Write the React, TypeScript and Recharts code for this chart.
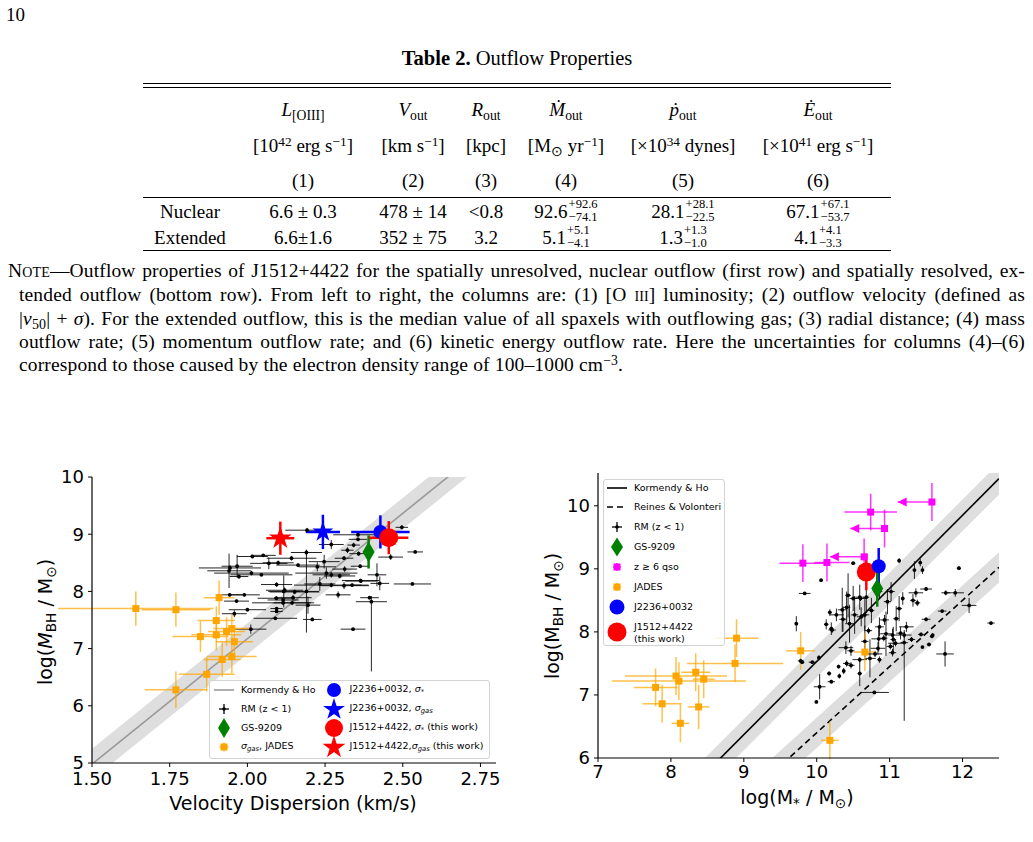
import React from 'react'
import { ComposedChart, Scatter, Line, Area, XAxis, YAxis, ErrorBar } from 'recharts'

type Err = number | [number, number]
type Pt = [number, number, Err, Err]

const SERIF = '"Liberation Serif", "Times New Roman", serif'
const SANS = '"DejaVu Sans", Verdana, sans-serif'

// ---------- left panel: M_BH vs log sigma ----------
const SIGMA_DOMAIN = [1.5, 2.8]
const SIGMA_TICKS = [1.5, 1.75, 2.0, 2.25, 2.5, 2.75]
const MBH_TICKS_L = [5, 6, 7, 8, 9, 10]
// Kormendy & Ho M-sigma relation, read at the frame edges
const KH_SIGMA_ENDS: [number, number][] = [[1.5, 4.98], [2.8, 10.68]]
const KH_SIGMA_SCATTER = 0.27

const RM_SIGMA: Pt[] = [
  [2.192, 9.07, 0.07, 0.04], [2.270, 8.82, 0.04, 0.08], [2.497, 9.12, 0.02, 0.04], [2.540, 8.69, 0.025, 0.02],
  [2.461, 8.60, 0.04, 0.05], [2.356, 8.99, 0.08, 0.03], [2.342, 8.81, 0.02, 0.04], [2.322, 8.72, 0.02, 0.05],
  [2.358, 8.66, 0.03, 0.04], [2.311, 8.58, 0.03, 0.03], [2.016, 8.61, 0.05, 0.02], [2.051, 8.63, 0.04, 0.02],
  [1.944, 8.41, 0.1, 0.05], [1.967, 8.44, 0.05, 0.2], [1.941, 8.36, 0.07, 0.3], [2.013, 8.32, 0.12, 0.04],
  [2.069, 8.49, 0.06, 0.1], [2.099, 8.50, 0.05, 0.04], [2.142, 8.58, 0.08, 0.04], [2.163, 8.46, 0.07, 0.03],
  [2.190, 8.68, 0.05, 0.05], [2.225, 8.43, 0.06, 0.08], [2.247, 8.52, 0.05, 0.12], [2.254, 8.32, 0.1, 0.1],
  [2.270, 8.29, 0.06, 0.05], [2.297, 8.27, 0.05, 0.04], [2.313, 8.39, 0.04, 0.05], [2.363, 8.44, 0.03, 0.03],
  [2.417, 8.29, 0.03, 0.2], [2.426, 8.14, 0.03, 0.12], [2.531, 8.13, 0.06, 0.02], [2.365, 8.18, 0.05, 0.03],
  [2.337, 8.11, 0.03, 0.03], [2.311, 8.10, 0.08, 0.06], [2.270, 8.11, 0.12, 0.04], [2.233, 8.13, 0.05, 0.12],
  [2.190, 8.00, 0.04, 0.72], [2.117, 8.00, 0.05, 0.28], [2.094, 8.12, 0.05, 0.04], [2.120, 8.02, 0.06, 0.05],
  [2.152, 7.99, 0.08, 0.04], [2.292, 7.94, 0.04, 0.06], [2.393, 7.89, 0.03, 0.03], [2.399, 7.82, 0.05, [1.22, 0.1]],
  [2.147, 7.89, 0.06, 0.05], [2.115, 7.85, 0.05, 0.04], [2.195, 7.76, 0.04, 0.15], [1.965, 7.83, 0.04, 0.03],
  [1.943, 7.94, 0.04, 0.03], [1.973, 8.26, 0.03, 0.04], [1.990, 7.94, 0.05, 0.03], [2.045, 8.29, 0.1, 0.02],
  [2.094, 7.70, 0.02, 0.02], [2.094, 7.65, 0.02, 0.02], [2.093, 7.88, 0.06, 0.03], [2.115, 7.80, 0.1, 0.04],
  [2.144, 7.80, 0.06, 0.04], [1.958, 7.61, 0.04, 0.06], [2.000, 7.68, 0.06, 0.03], [2.090, 7.53, 0.07, 0.02],
  [2.209, 7.51, 0.03, 0.03], [2.340, 7.34, 0.04, 0.02], [2.011, 7.34, 0.05, 0.08], [2.364, 8.19, 0.06, 0.03],
  [2.356, 8.91, 0.03, 0.03],
]
const JADES_SIGMA: Pt[] = [
  [1.641, 7.70, 0.25, 0.3], [1.770, 7.68, 0.11, 0.3], [1.909, 7.89, 0.05, 0.3], [1.900, 7.49, 0.06, 0.25],
  [1.849, 7.21, 0.09, 0.27], [1.900, 7.24, 0.08, 0.27], [1.933, 7.30, 0.06, 0.25], [1.950, 7.35, 0.06, 0.25],
  [1.958, 7.12, 0.06, 0.27], [1.919, 6.81, 0.06, 0.3], [1.950, 6.86, 0.08, 0.3], [1.869, 6.55, 0.09, 0.3],
  [1.770, 6.28, 0.1, 0.32],
]
const GS9209_SIGMA: Pt[] = [[2.39, 8.69, 0.01, 0.29]]
const J2236_SSTAR: Pt[] = [[2.428, 9.04, 0.094, 0.29]]
const J2236_SGAS: Pt[] = [[2.243, 9.04, 0.055, 0.3]]
const J1512_SSTAR: Pt[] = [[2.455, 8.94, 0.063, 0.29]]
const J1512_SGAS: Pt[] = [[2.106, 8.93, 0.045, 0.29]]

// ---------- right panel: M_BH vs log M* ----------
const MSTAR_DOMAIN = [7, 12.5]
const MSTAR_TICKS = [7, 8, 9, 10, 11, 12]
const MBH_TICKS_R = [6, 7, 8, 9, 10]
const KH_MSTAR_ENDS: [number, number][] = [[7, 4.05], [12.5, 10.43]]
const RV_MSTAR_ENDS: [number, number][] = [[7, 3.25], [12.5, 9.025]]
const KH_MSTAR_SCATTER = 0.25
const RV_MSTAR_SCATTER = 0.24

const RM_MSTAR: Pt[] = [
  [10.06, 8.82, 0.02, 0.02], [9.835, 8.61, 0.08, 0.02], [10.50, 9.09, 0.03, 0.02], [11.13, 9.13, 0.02, 0.04],
  [11.42, 9.10, 0.02, 0.06], [11.45, 8.98, 0.02, 0.06], [11.34, 8.98, 0.02, 0.14], [11.95, 9.01, 0.03, 0.03],
  [11.50, 8.68, 0.08, 0.03], [11.77, 8.62, 0.06, 0.04], [11.90, 8.62, 0.12, 0.06], [11.36, 8.62, 0.1, 0.07],
  [11.32, 8.50, 0.04, 0.1], [11.18, 8.53, 0.02, 0.1], [12.09, 8.42, 0.1, 0.12], [11.72, 8.33, 0.06, 0.02],
  [11.50, 8.20, 0.06, 0.03], [11.59, 7.95, 0.02, 0.03], [12.39, 8.14, 0.05, 0.02], [11.13, 8.37, 0.04, 0.2],
  [11.02, 8.64, 0.05, 0.15], [10.86, 8.64, 0.04, 0.1], [10.59, 8.55, 0.06, 0.2], [10.50, 8.53, 0.05, 0.2],
  [10.43, 8.58, 0.04, 0.35], [10.18, 8.31, 0.02, 0.05], [10.21, 8.03, 0.05, 0.05], [10.41, 8.39, 0.05, 0.25],
  [10.61, 8.24, 0.06, 0.15], [10.75, 8.34, 0.04, 0.2], [10.97, 8.48, 0.05, 0.2], [10.93, 8.19, 0.06, 0.08],
  [11.23, 8.08, 0.1, 0.08], [11.09, 8.21, 0.04, 0.2], [10.86, 8.08, 0.06, 0.15], [10.45, 8.13, 0.06, 0.3],
  [10.36, 8.20, 0.05, 0.2], [9.72, 8.13, 0.01, 0.12], [10.20, 8.05, 0.03, 0.1], [10.13, 8.12, 0.03, 0.08],
  [9.80, 7.52, 0.03, 0.03], [9.78, 7.54, 0.04, 0.04], [9.94, 7.52, 0.05, 0.02], [10.03, 7.59, 0.02, 0.04],
  [10.17, 7.34, 0.03, 0.03], [10.20, 7.21, 0.05, 0.03], [10.04, 7.13, 0.08, 0.2], [9.995, 6.89, 0.02, 0.02],
  [10.31, 7.30, 0.02, 0.04], [10.37, 7.38, 0.02, 0.05], [10.41, 7.50, 0.05, 0.05], [10.47, 7.47, 0.05, 0.05],
  [10.59, 7.34, 0.03, 0.2], [10.40, 7.75, 0.1, 0.1], [10.47, 7.70, 0.05, 0.08], [10.59, 7.56, 0.1, 0.04],
  [10.73, 7.58, 0.08, 0.3], [10.80, 7.65, 0.1, 0.05], [10.86, 7.56, 0.03, 0.05], [10.84, 7.74, 0.1, 0.1],
  [11.04, 7.67, 0.05, 0.06], [10.85, 7.89, 0.1, 0.2], [11.01, 7.77, 0.05, 0.05], [11.04, 7.95, 0.06, 0.1],
  [11.20, 7.95, 0.1, 0.05], [11.20, 7.83, 0.05, [1.24, 0.2]], [11.43, 7.96, 0.04, 0.03], [11.54, 7.80, 0.03, 0.02],
  [11.58, 7.93, 0.03, 0.03], [11.76, 7.65, 0.12, 0.2], [10.79, 7.04, [0.18, 0.2], 0.02], [10.66, 7.85, 0.05, 0.25],
  [10.35, 8.35, 0.06, 0.35], [10.60, 8.53, 0.08, 0.04], [10.52, 8.27, 0.05, 0.3], [10.68, 8.55, 0.04, 0.25],
  [10.27, 8.27, 0.1, 0.1], [10.66, 8.27, 0.06, 0.25], [10.71, 8.02, 0.05, 0.05], [10.95, 7.97, 0.08, 0.35],
  [11.05, 7.88, 0.04, 0.2], [10.92, 7.90, 0.05, 0.05], [11.08, 7.82, 0.1, 0.05], [11.15, 7.98, 0.06, 0.1],
  [10.30, 7.45, 0.02, 0.03], [11.38, 8.46, 0.04, 0.05], [11.45, 7.76, 0.02, 0.02], [11.30, 7.88, 0.05, 0.04],
]
const QSO_MSTAR: Pt[] = [
  [11.58, 10.06, [0.47, 0], 0.3], [10.74, 9.90, 0.36, 0.29], [10.93, 9.64, [0.47, 0], 0.3],
  [10.65, 9.19, [0.47, 0], 0.29], [9.81, 9.09, 0.32, 0.3], [10.14, 9.10, [0.17, 0.31], 0.3],
]
// upper limits on M*: where the arrows end
const QSO_ARROW_TIPS: [number, number][] = [[11.11, 10.06], [10.46, 9.64], [10.18, 9.19]]
const JADES_MSTAR: Pt[] = [
  [8.90, 7.90, 0.3, 0.3], [8.88, 7.50, 0.66, 0.3], [7.79, 7.12, 0.3, 0.3], [8.07, 7.30, 0.7, 0.3],
  [8.11, 7.22, 0.92, 0.3], [8.34, 7.36, 0.2, 0.3], [8.45, 7.25, 0.15, 0.3], [7.88, 6.86, 0.27, 0.3],
  [8.38, 6.81, 0.15, 0.35], [8.13, 6.55, 0.12, 0.3], [9.78, 7.70, 0.2, 0.3], [10.66, 7.68, 0.15, 0.3],
  [10.18, 6.28, 0.12, 0.3],
]
const GS9209_MSTAR: Pt[] = [[10.83, 8.69, 0, 0.29]]
const J2236_MSTAR: Pt[] = [[10.85, 9.04, 0, 0.29]]
const J1512_MSTAR: Pt[] = [[10.68, 8.95, 0, 0.29]]

// ---------- helpers ----------
const rows = (pts: Pt[]) => pts.map(([x, y, xe, ye]) => ({ x, y, xe, ye }))
const band = (ends: [number, number][], half: number) =>
  ends.map(([x, y]) => ({ x, mid: y, band: [y - half, y + half] }))

const starPath = (cx: number, cy: number, R: number) => {
  const r = R * 0.382
  let d = ''
  for (let i = 0; i < 10; i++) {
    const a = -Math.PI / 2 + (i * Math.PI) / 5
    const rad = i % 2 === 0 ? R : r
    d += (i === 0 ? 'M' : 'L') + (cx + rad * Math.cos(a)).toFixed(2) + ',' + (cy + rad * Math.sin(a)).toFixed(2)
  }
  return d + 'Z'
}
const dot = (r: number, fill: string) => (p: any) => <circle cx={p.cx} cy={p.cy} r={r} fill={fill} />
const square = (s: number, fill: string) => (p: any) => (
  <rect x={p.cx - s / 2} y={p.cy - s / 2} width={s} height={s} fill={fill} />
)
const star = (R: number, fill: string) => (p: any) => <path d={starPath(p.cx, p.cy, R)} fill={fill} />
const diamond = (w: number, h: number, fill: string) => (p: any) => (
  <path d={`M${p.cx},${p.cy - h / 2}L${p.cx + w / 2},${p.cy}L${p.cx},${p.cy + h / 2}L${p.cx - w / 2},${p.cy}Z`} fill={fill} />
)
const arrowHead = (fill: string) => (p: any) => (
  <path d={`M${p.cx},${p.cy}L${p.cx + 9},${p.cy - 4.5}L${p.cx + 9},${p.cy + 4.5}Z`} fill={fill} />
)

const TICK = { fontSize: 18, fill: '#000', fontFamily: SANS }
const AX = { stroke: '#000', strokeWidth: 1.2 }

function errs(color: string, w: number, opacity = 1) {
  return [
    <ErrorBar key="ex" dataKey="xe" direction="x" width={0} stroke={color} strokeWidth={w} strokeOpacity={opacity} />,
    <ErrorBar key="ey" dataKey="ye" direction="y" width={0} stroke={color} strokeWidth={w} strokeOpacity={opacity} />,
  ]
}

function frame(xDomain: number[], yDomain: number[]) {
  return [
    <XAxis key="tx" xAxisId="top" orientation="top" type="number" domain={xDomain} allowDataOverflow height={0}
      tick={false} tickLine={false} axisLine={AX} />,
    <YAxis key="ry" yAxisId="right" orientation="right" type="number" domain={yDomain} allowDataOverflow width={0}
      tick={false} tickLine={false} axisLine={AX} />,
  ]
}

function SigmaPanel() {
  const kh = band(KH_SIGMA_ENDS, KH_SIGMA_SCATTER)
  return (
    <ComposedChart width={520} height={380} margin={{ top: 17, right: 24, bottom: 47, left: 42 }}>
      <XAxis dataKey="x" type="number" domain={SIGMA_DOMAIN} ticks={SIGMA_TICKS} interval={0} allowDataOverflow
        tickFormatter={(v: number) => v.toFixed(2)} tick={TICK} tickSize={4} tickMargin={5} height={30}
        axisLine={AX} tickLine={{ stroke: '#000' }} />
      <YAxis type="number" domain={[5, 10]} ticks={MBH_TICKS_L} interval={0} allowDataOverflow width={50}
        tick={TICK} tickSize={4} tickMargin={4} axisLine={AX} tickLine={{ stroke: '#000' }} />
      {frame(SIGMA_DOMAIN, [5, 10])}
      <Area data={kh} dataKey="band" type="linear" fill="#dedede" fillOpacity={1} stroke="none" isAnimationActive={false} activeDot={false} />
      <Line data={kh} dataKey="mid" type="linear" stroke="#999" strokeWidth={1.6} dot={false} activeDot={false} isAnimationActive={false} />
      <Scatter data={rows(RM_SIGMA)} dataKey="y" shape={dot(1.9, '#000')} isAnimationActive={false}>
        {errs('#000', 1, 0.85)}
      </Scatter>
      <Scatter data={rows(JADES_SIGMA)} dataKey="y" shape={square(7, '#ffa500')} isAnimationActive={false}>
        {errs('#ffa500', 1.5, 0.7)}
      </Scatter>
      <Scatter data={rows(GS9209_SIGMA)} dataKey="y" shape={diamond(12, 21, '#008000')} isAnimationActive={false}>
        {errs('#008000', 2.5)}
      </Scatter>
      <Scatter data={rows(J2236_SSTAR)} dataKey="y" shape={dot(7, '#0000ff')} isAnimationActive={false}>
        {errs('#0000ff', 2.5)}
      </Scatter>
      <Scatter data={rows(J2236_SGAS)} dataKey="y" shape={star(11, '#0000ff')} isAnimationActive={false}>
        {errs('#0000ff', 2.5)}
      </Scatter>
      <Scatter data={rows(J1512_SSTAR)} dataKey="y" shape={dot(9.5, '#ff0000')} isAnimationActive={false}>
        {errs('#ff0000', 2.5)}
      </Scatter>
      <Scatter data={rows(J1512_SGAS)} dataKey="y" shape={star(12, '#ff0000')} isAnimationActive={false}>
        {errs('#ff0000', 2.5)}
      </Scatter>
    </ComposedChart>
  )
}

function MstarPanel() {
  const kh = band(KH_MSTAR_ENDS, KH_MSTAR_SCATTER)
  const rv = band(RV_MSTAR_ENDS, RV_MSTAR_SCATTER)
  const tips = QSO_ARROW_TIPS.map(([x, y]) => ({ x, y }))
  return (
    <ComposedChart width={500} height={380} margin={{ top: 13, right: 31, bottom: 52, left: 18 }}>
      <XAxis dataKey="x" type="number" domain={MSTAR_DOMAIN} ticks={MSTAR_TICKS} interval={0} allowDataOverflow
        tick={TICK} tickSize={4} tickMargin={3} height={30} axisLine={AX} tickLine={{ stroke: '#000' }} />
      <YAxis type="number" domain={[6, 10.52]} ticks={MBH_TICKS_R} interval={0} allowDataOverflow width={50}
        tick={TICK} tickSize={4} tickMargin={4} axisLine={AX} tickLine={{ stroke: '#000' }} />
      {frame(MSTAR_DOMAIN, [6, 10.52])}
      <Area data={kh} dataKey="band" type="linear" fill="#dedede" fillOpacity={1} stroke="none" isAnimationActive={false} activeDot={false} />
      <Area data={rv} dataKey="band" type="linear" fill="#dedede" fillOpacity={1} stroke="none" isAnimationActive={false} activeDot={false} />
      <Line data={kh} dataKey="mid" type="linear" stroke="#000" strokeWidth={1.6} dot={false} activeDot={false} isAnimationActive={false} />
      <Line data={rv} dataKey="mid" type="linear" stroke="#000" strokeWidth={1.6} strokeDasharray="6 4" dot={false} activeDot={false} isAnimationActive={false} />
      <Scatter data={rows(RM_MSTAR)} dataKey="y" shape={dot(1.9, '#000')} isAnimationActive={false}>
        {errs('#000', 1, 0.85)}
      </Scatter>
      <Scatter data={rows(QSO_MSTAR)} dataKey="y" shape={square(7, '#ff00ff')} isAnimationActive={false}>
        {errs('#ff00ff', 1.5, 0.8)}
      </Scatter>
      <Scatter data={tips} dataKey="y" shape={arrowHead('#ff00ff')} isAnimationActive={false} />
      <Scatter data={rows(JADES_MSTAR)} dataKey="y" shape={square(7, '#ffa500')} isAnimationActive={false}>
        {errs('#ffa500', 1.5, 0.7)}
      </Scatter>
      <Scatter data={rows(J1512_MSTAR)} dataKey="y" shape={dot(9.5, '#ff0000')} isAnimationActive={false}>
        {errs('#ff0000', 2.5)}
      </Scatter>
      <Scatter data={rows(J2236_MSTAR)} dataKey="y" shape={dot(7, '#0000ff')} isAnimationActive={false}>
        {errs('#0000ff', 2.5)}
      </Scatter>
      <Scatter data={rows(GS9209_MSTAR)} dataKey="y" shape={diamond(12, 20, '#008000')} isAnimationActive={false}>
        {errs('#008000', 2.5)}
      </Scatter>
    </ComposedChart>
  )
}

// ---------- legend icons ----------
const Icon = ({ x, y, children }: any) => (
  <svg width={30} height={26} viewBox="-15 -13 30 26" style={{ position: 'absolute', left: x - 15, top: y - 13, overflow: 'visible' }}>
    {children}
  </svg>
)
const plusIcon = (color: string, size: number, marker: any) => (
  <g>
    <line x1={-size} x2={size} y1={0} y2={0} stroke={color} strokeWidth={1.3} />
    <line x1={0} x2={0} y1={-size} y2={size} stroke={color} strokeWidth={1.3} />
    {marker}
  </g>
)
const Entry = ({ ix, tx, y, icon, children }: any) => (
  <>
    <Icon x={ix} y={y}>{icon}</Icon>
    <div style={{ position: 'absolute', left: tx, top: y, transform: 'translateY(-50%)', whiteSpace: 'nowrap', lineHeight: '11.5px' }}>
      {children}
    </div>
  </>
)
const Box = ({ left, top, width, height, children }: any) => (
  <div style={{ position: 'absolute', left, top, width, height, border: '1px solid #d3d3d3', borderRadius: 3,
    background: 'rgba(255,255,255,0.85)', fontFamily: SANS, fontSize: 9.5, color: '#000', boxSizing: 'border-box' }}>
    {children}
  </div>
)
const Sub = ({ children, italic }: any) => (
  <span style={{ fontSize: '0.72em', position: 'relative', top: '0.3em', fontStyle: italic ? 'italic' : 'normal' }}>{children}</span>
)
const Sup = ({ children }: any) => (
  <span style={{ fontSize: '0.7em', position: 'relative', top: '-0.45em' }}>{children}</span>
)

function SigmaLegend() {
  return (
    <Box left={209} top={680} width={281} height={79}>
      <Entry ix={14} tx={31} y={8.5} icon={<line x1={-10} x2={10} y1={0} y2={0} stroke="#999" strokeWidth={1.6} />}>Kormendy &amp; Ho</Entry>
      <Entry ix={14} tx={31} y={27.5} icon={plusIcon('#000', 5, <circle r={1.8} fill="#000" />)}>RM (z &lt; 1)</Entry>
      <Entry ix={14} tx={31} y={46.5} icon={<path d="M0,-10L6,0L0,10L-6,0Z" fill="#008000" />}>GS-9209</Entry>
      <Entry ix={14} tx={31} y={66} icon={plusIcon('#ffa500', 4.5, <rect x={-3.5} y={-3.5} width={7} height={7} fill="#ffa500" />)}>
        <i>σ</i><Sub italic>gas</Sub>, JADES
      </Entry>
      <Entry ix={123.5} tx={139.5} y={8.5} icon={<circle r={7} fill="#0000ff" />}>J2236+0032, <i>σ</i><Sub>*</Sub></Entry>
      <Entry ix={123.5} tx={139.5} y={27.5} icon={<path d={starPath(0, 0.5, 11.5)} fill="#0000ff" />}>J2236+0032, <i>σ</i><Sub italic>gas</Sub></Entry>
      <Entry ix={123.5} tx={139.5} y={46.5} icon={<circle r={9} fill="#ff0000" />}>J1512+4422, <i>σ</i><Sub>*</Sub> (this work)</Entry>
      <Entry ix={123.5} tx={139.5} y={66} icon={<path d={starPath(0, 0.5, 12)} fill="#ff0000" />}>J1512+4422,<i>σ</i><Sub italic>gas</Sub> (this work)</Entry>
    </Box>
  )
}

function MstarLegend() {
  return (
    <Box left={603} top={479} width={122} height={167}>
      <Entry ix={13} tx={30} y={7.5} icon={<line x1={-10} x2={10} y1={0} y2={0} stroke="#000" strokeWidth={1.6} />}>Kormendy &amp; Ho</Entry>
      <Entry ix={13} tx={30} y={27} icon={<line x1={-10} x2={10} y1={0} y2={0} stroke="#000" strokeWidth={1.6} strokeDasharray="6 4" />}>Reines &amp; Volonteri</Entry>
      <Entry ix={13} tx={30} y={47} icon={plusIcon('#000', 5, <circle r={1.8} fill="#000" />)}>RM (z &lt; 1)</Entry>
      <Entry ix={13} tx={30} y={67} icon={<path d="M0,-9.5L6,0L0,9.5L-6,0Z" fill="#008000" />}>GS-9209</Entry>
      <Entry ix={13} tx={30} y={87} icon={plusIcon('#ff00ff', 4, <rect x={-3.5} y={-3.5} width={7} height={7} fill="#ff00ff" />)}>z ≥ 6 qso</Entry>
      <Entry ix={13} tx={30} y={107} icon={plusIcon('#ffa500', 4, <rect x={-3.5} y={-3.5} width={7} height={7} fill="#ffa500" />)}>JADES</Entry>
      <Entry ix={13} tx={30} y={127} icon={<circle r={7.5} fill="#0000ff" />}>J2236+0032</Entry>
      <Entry ix={13} tx={30} y={152} icon={<circle r={9.5} fill="#ff0000" />}>J1512+4422<br />(this work)</Entry>
    </Box>
  )
}

// ---------- page text ----------
const COLS = [190, 303, 413, 486, 566, 683, 818]
const At = ({ x, y, children, style }: any) => (
  <div style={{ position: 'absolute', left: x, top: y, transform: 'translate(-50%, -50%)', whiteSpace: 'nowrap', ...style }}>
    {children}
  </div>
)
const Asym = ({ v, up, lo }: any) => (
  <span style={{ display: 'inline-flex', alignItems: 'center' }}>
    {v}
    <span style={{ display: 'inline-flex', flexDirection: 'column', fontSize: '0.66em', lineHeight: 1.02, marginLeft: 1, marginTop: -3 }}>
      <span>+{up}</span>
      <span>−{lo}</span>
    </span>
  </span>
)
const Rule = ({ y, h = 1 }: any) => (
  <div style={{ position: 'absolute', left: 143, width: 748, top: y, height: h, background: '#000' }} />
)
const NoteLine = ({ x, y, w, last, children }: any) => (
  <div style={{ position: 'absolute', left: x, top: y, width: w, transform: 'translateY(-50%)', textAlign: last ? 'left' : 'justify',
    textAlignLast: last ? 'auto' : 'justify', lineHeight: '22px', height: 22, overflow: 'visible' } as any}>
    {children}
  </div>
)

export default function App() {
  const tableFont = { fontSize: 19 }
  return (
    <div style={{ position: 'absolute', left: 0, top: 0, width: 1033, height: 842, background: '#fff', overflow: 'hidden',
      fontFamily: SERIF, color: '#000' }}>
      <div style={{ position: 'absolute', left: 6, top: 4, fontSize: 19 }}>10</div>

      <At x={517} y={58} style={{ fontSize: 20.5 }}><b>Table 2.</b> Outflow Properties</At>
      <Rule y={83} />
      <Rule y={87} />
      <div style={tableFont}>
        <At x={COLS[1]} y={110}><i>L</i><Sub>[OIII]</Sub></At>
        <At x={COLS[2]} y={110}><i>V</i><Sub>out</Sub></At>
        <At x={COLS[3]} y={110}><i>R</i><Sub>out</Sub></At>
        <At x={COLS[4]} y={110}><i>Ṁ</i><Sub>out</Sub></At>
        <At x={COLS[5]} y={110}><i>ṗ</i><Sub>out</Sub></At>
        <At x={COLS[6]} y={110}><i>Ė</i><Sub>out</Sub></At>

        <At x={COLS[1]} y={146}>[10<Sup>42</Sup> erg s<Sup>−1</Sup>]</At>
        <At x={COLS[2]} y={146}>[km s<Sup>−1</Sup>]</At>
        <At x={COLS[3]} y={146}>[kpc]</At>
        <At x={COLS[4]} y={146}>[M<Sub>⊙</Sub> yr<Sup>−1</Sup>]</At>
        <At x={COLS[5]} y={146}>[×10<Sup>34</Sup> dynes]</At>
        <At x={COLS[6]} y={146}>[×10<Sup>41</Sup> erg s<Sup>−1</Sup>]</At>

        {['(1)', '(2)', '(3)', '(4)', '(5)', '(6)'].map((t, i) => (
          <At key={t} x={COLS[i + 1]} y={181}>{t}</At>
        ))}

        <At x={COLS[0]} y={212}>Nuclear</At>
        <At x={COLS[1]} y={212}>6.6 ± 0.3</At>
        <At x={COLS[2]} y={212}>478 ± 14</At>
        <At x={COLS[3]} y={212}>&lt;0.8</At>
        <At x={COLS[4]} y={212}><Asym v="92.6" up="92.6" lo="74.1" /></At>
        <At x={COLS[5]} y={212}><Asym v="28.1" up="28.1" lo="22.5" /></At>
        <At x={COLS[6]} y={212}><Asym v="67.1" up="67.1" lo="53.7" /></At>

        <At x={COLS[0]} y={238}>Extended</At>
        <At x={COLS[1]} y={238}>6.6±1.6</At>
        <At x={COLS[2]} y={238}>352 ± 75</At>
        <At x={COLS[3]} y={238}>3.2</At>
        <At x={COLS[4]} y={238}><Asym v="5.1" up="5.1" lo="4.1" /></At>
        <At x={COLS[5]} y={238}><Asym v="1.3" up="1.3" lo="1.0" /></At>
        <At x={COLS[6]} y={238}><Asym v="4.1" up="4.1" lo="3.3" /></At>
      </div>
      <Rule y={197} h={1.4} />
      <Rule y={250} />

      <div style={{ fontSize: 19.5, letterSpacing: 0.15 }}>
        <NoteLine x={8} y={271} w={1017}>
          <span style={{ fontVariant: 'small-caps' }}>Note</span>—Outflow properties of J1512+4422 for the spatially unresolved, nuclear outflow (first row) and spatially resolved, ex-
        </NoteLine>
        <NoteLine x={19} y={295} w={1006}>
          tended outflow (bottom row). From left to right, the columns are: (1) [O <span style={{ fontVariant: 'small-caps' }}>iii</span>] luminosity; (2) outflow velocity (defined as
        </NoteLine>
        <NoteLine x={19} y={318.5} w={1006}>
          |<i>v</i><Sub>50</Sub>| + <i>σ</i>). For the extended outflow, this is the median value of all spaxels with outflowing gas; (3) radial distance; (4) mass
        </NoteLine>
        <NoteLine x={19} y={342} w={1006}>
          outflow rate; (5) momentum outflow rate; and (6) kinetic energy outflow rate. Here the uncertainties for columns (4)–(6)
        </NoteLine>
        <NoteLine x={19} y={365} w={1006} last>
          correspond to those caused by the electron density range of 100–1000 cm<Sup>−3</Sup>.
        </NoteLine>
      </div>

      <div style={{ position: 'absolute', left: 0, top: 460, width: 520, height: 380 }}>
        <SigmaPanel />
      </div>
      <div style={{ position: 'absolute', left: 530, top: 460, width: 500, height: 380 }}>
        <MstarPanel />
      </div>
      <SigmaLegend />
      <MstarLegend />

      <div style={{ fontFamily: SANS, fontSize: 19 }}>
        <At x={293} y={803}>Velocity Dispersion (km/s)</At>
        <At x={45} y={622} style={{ transform: 'translate(-50%, -50%) rotate(-90deg)' }}>
          log(<i>M</i><Sub>BH</Sub> / M<Sub>⊙</Sub>)
        </At>
        <At x={797} y={797}>log(M<Sub>*</Sub> / M<Sub>⊙</Sub>)</At>
        <At x={552} y={616} style={{ transform: 'translate(-50%, -50%) rotate(-90deg)' }}>
          log(M<Sub>BH</Sub> / M<Sub>⊙</Sub>)
        </At>
      </div>
    </div>
  )
}
